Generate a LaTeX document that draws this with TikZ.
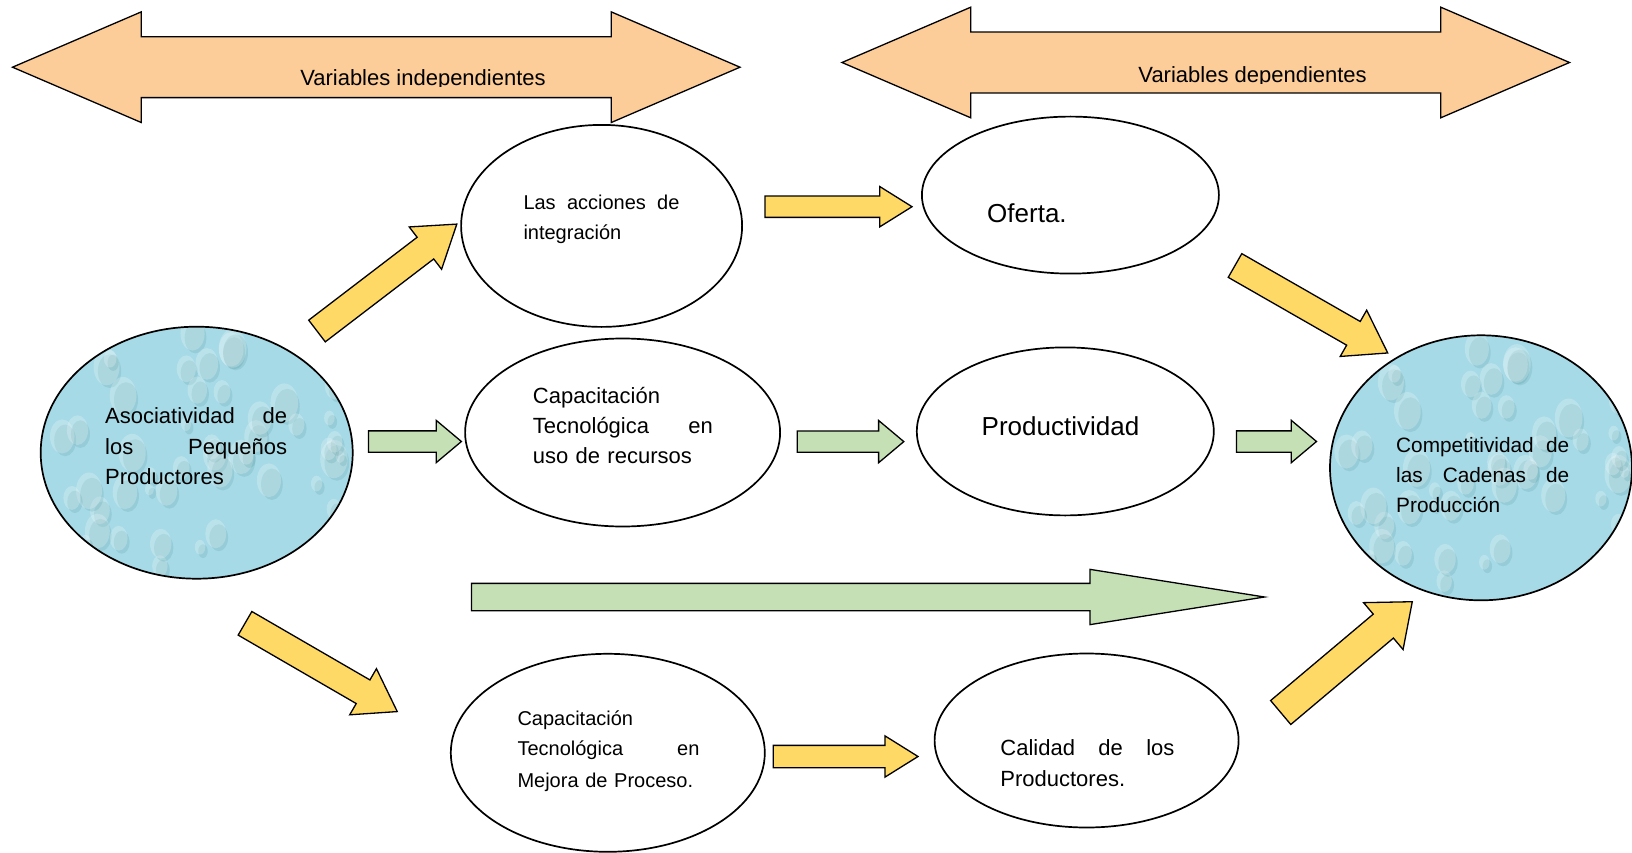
\documentclass[tikz,border=0pt]{standalone}
\usepackage{fontspec}
\setmainfont{Liberation Sans}
\usetikzlibrary{
    shapes.geometric,
    shapes.arrows,
    calc
}
\definecolor{peach}{RGB}{252,204,153}
\definecolor{sun}{RGB}{255,217,102}
\definecolor{leaf}{RGB}{197,224,180}
\definecolor{waterblue}{RGB}{166,218,230}

\begin{document}
\begin{tikzpicture}[
    x=1pt, y=-1pt,
    bubble/.style={ellipse, draw, line width=1.7pt, inner sep=0pt},
    water/.style={bubble, fill=waterblue, path picture={
        \pgfmathsetseed{12}
        \foreach \k in {1,...,60}{
            \pgfmathsetmacro{\dx}{rand*150}
            \pgfmathsetmacro{\dy}{rand*130}
            \pgfmathsetmacro{\rr}{4+10*rnd}
            \fill[teal!70!black, opacity=.10] ($(path picture bounding box.center)+(\dx+3,\dy+4)$) ellipse ({.9*\rr} and {1.3*\rr});
            \fill[white, opacity=.22] ($(path picture bounding box.center)+(\dx,\dy)$) ellipse ({\rr} and {1.4*\rr});
        }}},
    txt/.style={anchor=base west, inner sep=0pt, align=left},
    band/.style={double arrow, draw, fill=peach, line width=1.3pt, inner xsep=0pt, inner ysep=29.8pt, outer sep=0pt,
        minimum height=727.5pt, minimum width=109.3pt, double arrow head extend=24.85pt, double arrow tip angle=46.5},
    fat/.style={single arrow, draw, line width=1.3pt, inner xsep=0pt, outer sep=0pt, anchor=tail, single arrow head indent=0pt},
    sunarrow/.style={fat, fill=sun},
    leafarrow/.style={fat, fill=leaf, inner ysep=10pt, single arrow head extend=10.5pt, minimum width=41pt, single arrow tip angle=80},
    diag/.style={inner ysep=13pt, single arrow head extend=13pt, minimum width=52pt, single arrow tip angle=68, minimum height=176pt},
    flat/.style={inner ysep=10pt, single arrow head extend=9.5pt, minimum width=39pt, single arrow tip angle=64},
]
\useasboundingbox (0,0) rectangle (1632,853);

% Bands
\node[band] (indep) at (376.25,67.2) {};
\node[band] (dep) at (1205.75,62.5) {};
\begin{scope}
\clip (0,0) rectangle (800,86.5);
\node[txt, anchor=base, font=\fontsize{22}{26}\selectfont] (indep-t) at (423,85.5) {Variables independientes};
\end{scope}
\begin{scope}
\clip (800,0) rectangle (1632,84);
\node[txt, anchor=base, font=\fontsize{22}{26}\selectfont] (dep-t) at (1252.6,83) {Variables dependientes};
\end{scope}

% Ellipses
\node[water, minimum width=312pt, minimum height=252pt] (asoc) at (196.7,452.7) {};
\node[bubble, minimum width=281pt, minimum height=202pt] (acc) at (601.6,225.9) {};
\node[bubble, minimum width=315pt, minimum height=188pt] (uso) at (622.6,432.5) {};
\node[bubble, minimum width=314pt, minimum height=198pt] (mej) at (607.8,752.8) {};
\node[bubble, minimum width=297pt, minimum height=157pt] (ofe) at (1070.4,195.1) {};
\node[bubble, minimum width=297pt, minimum height=168pt] (prod) at (1065.3,431.4) {};
\node[bubble, minimum width=304pt, minimum height=174pt] (cal) at (1086.6,740.5) {};
\node[water, minimum width=302pt, minimum height=265pt] (comp) at (1481,467.8) {};

\node[txt, text width=182pt, font=\fontsize{22}{30.5}\selectfont] (asoc-t) at (105,423.5)
    {Asociatividad\hfill de\\ los\hfill Pequeños\\ Productores};
\node[txt, text width=156pt, font=\fontsize{20}{29.3}\selectfont] (acc-t) at (523.3,210)
    {Las\hfill acciones\hfill de\\ integración};
\node[txt, text width=180pt, font=\fontsize{22}{30.3}\selectfont] (uso-t) at (532.7,403)
    {Capacitación\\ Tecnológica\hfill en\\ uso de recursos};
\node[txt, text width=182pt, font=\fontsize{20}{29.5}\selectfont] (mej-t) at (517.3,725.5)
    {Capacitación\\ Tecnológica\hfill en\\[2.5pt] Mejora de Proceso.};
\node[txt, font=\fontsize{26}{30}\selectfont] (ofe-t) at (987,222.5) {Oferta.};
\node[txt, font=\fontsize{26}{30}\selectfont] (prod-t) at (981.5,435) {Productividad};
\node[txt, text width=174pt, font=\fontsize{22}{31.5}\selectfont] (cal-t) at (1000.2,755)
    {Calidad\hfill de\hfill los\\ Productores.};
\node[txt, text width=173pt, font=\fontsize{20.8}{30.3}\selectfont] (comp-t) at (1396,452)
    {Competitividad\hfill de\\ las\hfill Cadenas\hfill de\\ Producción};

% Block arrows
\node[sunarrow, diag, rotate=37.4] (a-acc) at (317,331) {};
\node[sunarrow, diag, rotate=-29.8] (a-ofe) at (1235,265.5) {};
\node[sunarrow, diag, rotate=-30.1] (a-mej) at (245,623.3) {};
\node[sunarrow, diag, inner ysep=15pt, single arrow head extend=15pt, minimum width=60pt,
    single arrow tip angle=78, minimum height=172pt, rotate=40.1] (a-cal) at (1280.7,712.5) {};
\node[sunarrow, flat, minimum height=147pt] (h-acc) at (765,206.7) {};
\node[sunarrow, flat, inner ysep=10.5pt, minimum width=41pt, minimum height=144.7pt] (h-mej) at (773.3,756.5) {};

\node[leafarrow, minimum height=93pt] (g-asoc) at (368.4,441.5) {};
\node[leafarrow, minimum height=106.5pt] (g-uso) at (797.3,441.6) {};
\node[leafarrow, minimum height=80pt] (g-prod) at (1236.5,441.5) {};
\node[leafarrow, inner ysep=13pt, single arrow head extend=14pt, minimum width=54pt,
    single arrow tip angle=18, minimum height=793pt] (g-long) at (471.5,597) {};
\end{tikzpicture}
\end{document}
